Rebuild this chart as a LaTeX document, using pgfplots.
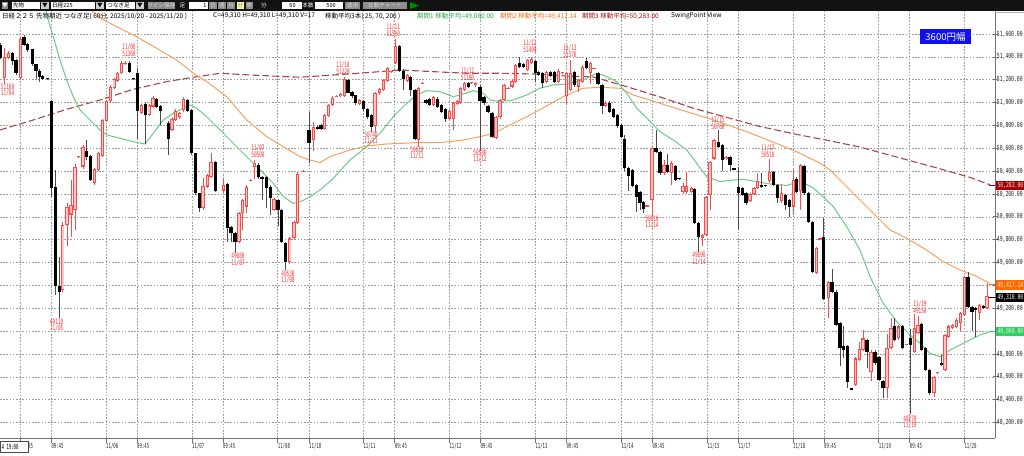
\documentclass[border=0pt]{standalone}
\usepackage{fontspec}
\usepackage{graphicx}
\usepackage{pgfplots}
\usepackage{pgfplotstable}
\pgfplotsset{compat=1.18}
\setmainfont{Liberation Sans}
\newfontfamily\jp{Noto Sans CJK JP}
\newfontfamily\dm{DejaVu Sans Mono}
\newcommand{\cnd}[2][0.58]{\scalebox{#1}[1]{#2}}
\definecolor{swred}{HTML}{FF3030}
\definecolor{upedge}{HTML}{FF4A4A}
\definecolor{upfill}{HTML}{FFC4C4}
\definecolor{maG}{HTML}{6CCB84}
\definecolor{maO}{HTML}{F5A261}
\definecolor{maR}{HTML}{A64848}
\definecolor{hdG}{HTML}{22AA44}
\definecolor{hdO}{HTML}{FF6A10}
\definecolor{hdR}{HTML}{AA1010}
\definecolor{bxR}{HTML}{A00000}
\definecolor{bxO}{HTML}{FF6A00}
\definecolor{bxG}{HTML}{33CC66}
\definecolor{bxB}{HTML}{1010F0}

% bullish candles: x open high low close
\pgfplotstableread{
x o h l c
4.7 51215 51480 51160 51400
8.7 51390 51450 51380 51435
20.7 51215 51575 51210 51560
62.8 49355 49950 49340 49930
67 49930 50120 49740 50090
71 50020 50320 49825 50100
75 50060 50460 49885 50440
78.7 50520 50530 50515 50530
83 50440 50630 50420 50615
94.5 50295 50430 50280 50420
98.3 50410 50570 50400 50560
102.3 50530 50860 50520 50850
106.7 50840 51020 50830 51010
110.5 51010 51150 51000 51140
114.2 51125 51215 51115 51205
117.5 51190 51270 51180 51260
121.3 51260 51360 51250 51350
125 51340 51360 51330 51350
141.3 50910 50990 50900 50980
149.2 50890 50990 50880 50980
153 50965 51060 50950 51040
172 50760 50870 50750 50855
175.3 50850 50940 50840 50930
179.8 50870 50920 50860 50910
183.5 50935 51050 50920 51035
203 50075 50340 50060 50270
207.3 50265 50375 50255 50365
211 50350 50560 50340 50480
223.3 50230 50330 50210 50275
239 49780 50040 49770 50030
242.3 50030 50160 49880 50150
246.7 50090 50280 50030 50265
250.7 50315 50330 50310 50325
254.7 50435 50500 50330 50475
274 50060 50165 50050 50155
289.8 49605 49820 49590 49810
294 49810 49965 49800 49955
297.7 49945 50390 49935 50375
303 50395 50410 50390 50405
313.3 50670 50830 50580 50790
324.3 50770 50900 50760 50890
328.3 50880 50990 50870 50980
332.3 50980 51060 50970 51040
336.7 51050 51065 51045 51060
340.3 51055 51085 51050 51075
344.3 51060 51220 51050 51210
359.7 50985 51030 50975 51020
375 50795 51095 50740 51085
379.3 51080 51130 51070 51115
383.3 51110 51210 51100 51200
387.3 51190 51310 51180 51300
391 51265 51280 51260 51275
395.7 51345 51560 51340 51495
407.3 51190 51250 51180 51240
418.7 50670 51135 50610 51125
422.7 51165 51180 51160 51175
433.7 50980 51060 50970 51050
449.3 50860 50940 50850 50930
453.3 50855 51005 50760 50995
457.3 50990 51020 50980 51010
460.7 50995 51135 50985 51125
464.3 51110 51180 51100 51175
471.7 51170 51180 51165 51178
475.7 51150 51180 51140 51175
496 50690 50885 50680 50875
500 50875 51030 50860 51020
504 51020 51165 51010 51155
508 51120 51135 51115 51130
512 51140 51200 51130 51190
515.7 51180 51340 51170 51330
527.3 51285 51380 51275 51370
531.3 51350 51400 51340 51380
546.7 51180 51280 51170 51270
558.7 51180 51290 51170 51280
562.7 51255 51265 51250 51262
566.7 51055 51265 50990 51255
570.7 51110 51370 51100 51260
578.7 51140 51210 51090 51200
582.7 51180 51325 51170 51315
590.7 51260 51355 51160 51345
594 51295 51305 51290 51302
605.7 50970 51010 50960 51000
647 50090 50105 50085 50100
652 50150 50610 50010 50600
664 50380 50500 50370 50455
671.3 50380 50485 50280 50475
683 50220 50300 50200 50270
686.7 50215 50390 50200 50270
691.3 50220 50260 50210 50250
702.7 49815 49850 49740 49840
706 49840 50185 49830 50175
710 50190 50490 50060 50480
714 50510 50680 50500 50670
726 50505 50535 50495 50525
750 50140 50210 50130 50200
754 50200 50260 50190 50250
757.7 50250 50380 50240 50310
769.3 50310 50510 50300 50395
781.3 50135 50290 50125 50205
793.3 50090 50420 50020 50320
800.7 50225 50465 50060 50455
816.3 49505 49735 49495 49725
820 49800 49810 49795 49808
828.3 49285 49440 49110 49430
855.7 48530 48770 48520 48760
859.3 48745 48900 48735 48840
863 48835 49010 48825 48935
871 48645 48830 48560 48820
887 48500 48970 48410 48850
891 48850 49110 48840 49025
898.7 48935 49050 48925 49040
906.7 48880 48890 48875 48888
914.3 48820 49150 48810 49025
918 48980 49130 48970 49055
934 48455 48610 48420 48600
937.3 48630 48640 48625 48638
945 48660 48975 48650 48965
948.7 48950 49050 48940 49040
952.7 49025 49065 49015 49055
956.7 49035 49110 49025 49100
960.7 49070 49165 49000 49155
964.7 49140 49485 49130 49475
979.3 49155 49240 49100 49230
987 49200 49420 49190 49310
}\bull

% bearish candles: x open high low close
\pgfplotstableread{
x o h l c
0.8 51505 51520 51380 51390
12.5 51435 51445 51330 51365
16 51370 51380 51240 51255
24 51575 51590 51495 51505
27.3 51510 51520 51440 51460
32.3 51465 51470 51320 51335
36 51335 51340 51210 51280
39.5 51275 51290 51180 51225
42.8 51230 51240 51195 51210
47.2 51208 51212 51198 51202
51.7 51010 51020 50175 50250
55.7 50265 50410 49315 49390
59.5 49395 49650 49110 49345
86.8 50580 50670 50500 50525
90.7 50530 50540 50310 50320
129.5 51350 51360 51260 51270
133.7 51208 51212 51195 51202
137.3 51260 51300 50685 50930
145.3 50990 51000 50640 50890
156.7 51030 51040 50950 50965
160.7 50970 50980 50800 50930
168.3 50825 50840 50540 50680
187.7 51020 51030 50920 50930
191.7 50935 50940 50540 50555
195.7 50555 50560 50190 50205
199.3 50205 50210 50040 50075
215.3 50480 50490 50220 50230
227.3 50290 50300 49780 49900
231 49910 49920 49780 49855
235 49860 49870 49680 49775
258.7 50455 50470 50330 50345
262 50350 50360 50150 50330
266.5 50350 50360 50080 50250
270.2 50265 50280 50020 50165
278 50150 50160 49920 50060
281.7 50060 50070 49770 49780
285.3 49770 49780 49530 49605
309 50760 50920 50470 50650
317.3 50790 50800 50760 50770
321 50800 50810 50760 50770
348 51200 51210 51080 51085
352 51095 51100 51040 51055
355.7 51065 51070 50980 50995
363.3 51010 51020 50930 50940
367.3 50940 50950 50860 50875
371.3 50890 50900 50740 50785
399.3 51495 51500 51270 51280
403.3 51280 51290 51110 51205
410.7 51225 51235 51060 51110
415 51110 51120 50670 50680
426 51020 51030 50985 50995
429.7 51030 51040 50970 50980
437.3 51035 51045 50950 50960
441.3 50980 50990 50910 50920
445.3 50940 50950 50830 50860
468.3 51175 51180 51130 51140
480 51140 51150 50580 51010
484 51050 51060 50980 50995
488 50970 50980 50910 50920
492 50905 50915 50690 50700
519.7 51345 51395 51300 51315
523.3 51335 51345 51300 51310
535.3 51365 51375 51180 51255
538.7 51270 51280 51230 51240
542.7 51255 51265 51130 51170
550.7 51270 51280 51220 51230
554.7 51270 51280 51170 51180
574.7 51270 51280 51140 51155
586.7 51360 51390 51290 51300
598 51255 51265 51150 51160
602 51155 51165 50900 50970
609.7 51000 51010 50910 50920
613.3 50940 50950 50865 50875
617.3 50890 50900 50780 50795
621.3 50805 50815 50690 50700
624.7 50680 50720 50400 50425
628.7 50425 50435 50230 50360
632.3 50410 50420 50260 50270
636.3 50280 50290 50040 50175
640 50220 50230 50060 50120
643.7 50130 50140 50030 50070
656 50600 50760 50560 50570
660 50570 50580 50370 50380
667.3 50455 50550 50385 50395
675.7 50445 50455 50310 50320
679 50332 50336 50325 50328
694.3 50240 50250 49935 49945
698.3 49945 49955 49690 49825
718.3 50655 50760 50600 50610
722.3 50630 50640 50400 50500
730 50525 50535 50400 50455
734 50417 50420 50410 50413
738.3 50265 50440 49885 50205
742.3 50250 50260 50180 50190
746 50205 50215 50100 50120
761.7 50280 50380 50250 50260
765.7 50272 50276 50265 50268
773.3 50395 50405 50270 50280
777.3 50280 50290 50120 50165
785.3 50190 50200 50060 50100
789.3 50145 50155 50000 50090
796.7 50335 50345 50210 50220
804 50445 50455 50195 50205
808.3 50205 50215 49945 49955
812.3 49955 49965 49510 49520
823.3 49825 49990 49270 49280
832 49430 49540 49335 49345
836 49345 49355 49045 49055
840 49070 49080 48690 48850
843.7 48865 49040 48760 48835
847.7 48865 48875 48500 48555
851.3 48492 48496 48485 48488
867 48920 48930 48680 48820
875 48820 48830 48700 48720
879 48775 48785 48560 48570
883 48560 48570 48410 48500
894.7 49040 49110 48910 48920
902.7 49040 49050 48840 48850
910.3 48940 49020 48270 48880
921.7 49060 49070 48825 48835
925.7 48850 48860 48650 48660
929.7 48660 48670 48440 48455
941.7 48720 48790 48690 48700
968 49475 49520 49200 49210
972 49210 49220 49000 49170
975.7 49200 49210 48945 49185
983.3 49220 49230 49190 49200
}\bear

% moving average 25 (green)
\pgfplotstableread{
x p
44 51880
48.3 51723
53.3 51576
60 51372
66.7 51197
73.3 51051
80 50935
90 50847
100 50760
106.7 50716
120 50687
133.3 50657
145 50637
153.3 50731
163.3 50847
173.3 50906
183.3 50950
190 50979
196.7 50950
206.7 50876
220 50760
233.3 50643
246.7 50526
263.3 50381
273.3 50293
283.3 50176
293.3 50118
300 50132
310 50173
320 50235
331.7 50322
350 50497
366.7 50614
380 50731
393.3 50876
406.7 50993
416.7 51066
426.7 51104
440 51095
453.3 51051
463.3 51075
473.3 51104
483.3 51081
490 51022
500 51008
513.3 51022
526.7 51066
540 51125
553.3 51154
566.7 51162
583.3 51197
595 51250
603.3 51241
616.7 51183
626.7 51081
636.7 50950
646.7 50865
660 50745
673.3 50672
686.7 50585
696.7 50468
706.7 50351
720 50307
733.3 50322
743.3 50328
756.7 50307
770 50287
786.7 50274
800 50313
813.3 50252
823.3 50173
833.3 50088
846.7 49913
860 49709
870 49476
883.3 49243
896.7 49082
910 48965
920 48893
930 48805
940 48776
950 48834
960 48878
970 48922
980 48966
990 48994
}\maG

% moving average 70 (orange)
\pgfplotstableread{
x p
86 51845
103.3 51723
133.3 51591
156.7 51475
176.7 51372
193.3 51256
206.7 51183
226.7 51051
246.7 50847
266.7 50701
283.3 50614
300 50526
310 50497
320 50474
330 50526
350 50585
366.7 50620
386.7 50637
416.7 50649
440 50649
463.3 50672
480 50701
493.3 50731
506.7 50789
526.7 50876
546.7 50970
563.3 51052
583.3 51125
600 51133
620 51125
633.3 51066
660 50993
686.7 50920
713.3 50847
746.7 50745
780 50629
800 50556
820 50468
830 50410
843.3 50293
860 50147
870 50059
890 49885
906.7 49812
926.7 49709
943.3 49607
960 49534
973.3 49491
986.7 49432
990 49420
}\maO

% moving average 200 (dark red, dashed)
\pgfplotstableread{
x p
0 50760
33.3 50847
66.7 50941
100 51022
133.3 51116
166.7 51183
193.3 51221
220 51256
250 51241
300 51221
333.3 51241
366.7 51261
400 51285
433.3 51270
466.7 51256
500 51256
533.3 51250
566.7 51232
593.3 51224
626.7 51139
660 51049
693.3 50950
726.7 50870
760 50790
800 50715
830 50665
860 50610
900 50515
940 50420
970 50345
990 50280
}\maR

\tikzset{
  swl/.style={inner sep=0pt, font=\dm\fontsize{7.5}{7.5}\selectfont, text=swred},
  hdr/.style={anchor=west, inner sep=0pt, font=\jp\fontsize{6.5}{6.5}\selectfont},
  tb/.style={inner sep=0pt, font=\jp\fontsize{5.6}{5.6}\selectfont},
}
\newcommand{\lab}[4]{%
  \node[swl] at (#1,{455-#2}) {\cnd[0.585]{#3}};
  \node[swl] at (#1,{455-#2-6.7}) {\cnd[0.585]{#4}};}
\newcommand{\fld}[3]{%
  \fill[white] (#1,445.5) rectangle (#2,453.3);
  \node[tb, anchor=west, text=black] at ({#1+1.2},449.4) {#3};}
\newcommand{\btn}[5]{%
  \fill[#4] (#1,445.5) rectangle (#2,453.3);
  \node[tb, text=#5] at ({(#1+#2)/2},449.4) {#3};}
\newcommand{\pbox}[4]{%
  \draw[#2, line width=1pt] (989,{455-#1}) -- (995,{455-#1});
  \fill[#2] (996,{455-#1-4.6}) rectangle (1030,{455-#1+4.6});
  \node[anchor=west, inner sep=0pt, font=\dm\fontsize{7}{7}\selectfont, text=#3] at (997.3,{455-#1}) {\cnd[0.68]{#4}};}
\pgfplotsset{candle/.style={draw=none, mark=none, forget plot,
  error bars/.cd, y dir=plus, y explicit, error mark=none}}

\begin{document}
\begin{tikzpicture}[x=1pt, y=1pt]
\fill[white] (0,0) rectangle (1024,455);

\begin{axis}[
  at={(0pt,17pt)}, anchor=south west,
  scale only axis, width=995pt, height=427pt,
  xmin=0, xmax=995, ymin=48064, ymax=51801,
  axis x line*=bottom, axis y line*=right,
  axis line style={draw=black!55, line width=0.6pt},
  xtick={20.7,51.3,106,137,192,223,277.7,309,363.3,394.7,449.3,480.3,535.3,566.3,621.3,652.3,707.3,738.3,793,824,878.7,909.7,964.3},
  xticklabels={\cnd[0.57]{11/05},\cnd[0.57]{09:45},\cnd[0.57]{11/06},\cnd[0.57]{09:45},\cnd[0.57]{11/07},\cnd[0.57]{09:45},\cnd[0.57]{11/08},\cnd[0.57]{11/10},\cnd[0.57]{11/11},\cnd[0.57]{09:45},\cnd[0.57]{11/12},\cnd[0.57]{09:45},\cnd[0.57]{11/13},\cnd[0.57]{09:45},\cnd[0.57]{11/14},\cnd[0.57]{09:45},\cnd[0.57]{11/15},\cnd[0.57]{11/17},\cnd[0.57]{11/18},\cnd[0.57]{09:45},\cnd[0.57]{11/19},\cnd[0.57]{09:45},\cnd[0.57]{11/20}},
  ytick={48200,48400,48600,48800,49000,49200,49400,49600,49800,50000,50200,50400,50600,50800,51000,51200,51400,51600},
  scaled y ticks=false,
  xmajorgrids, ymajorgrids,
  major grid style={draw=black!38, line width=0.5pt, dash pattern=on 1.6pt off 1.6pt},
  xtick align=outside, ytick align=center,
  major tick length=5pt,
  tick style={draw=black!55, line width=0.6pt},
  xticklabel style={anchor=north west, inner sep=0pt, font=\dm\fontsize{7}{7}\selectfont, text=black!85},
  yticklabel pos=right,
  yticklabel style={anchor=west, inner sep=0pt, xshift=-0.8pt, font=\dm\fontsize{7}{7}\selectfont, text=black!85},
  yticklabel={\cnd[0.68]{\pgfmathprintnumber[fixed, fixed zerofill, precision=2, 1000 sep={,}, assume math mode=true]{\tick}}},
]
% moving averages
\addplot[maR, line width=1.1pt, dash pattern=on 7pt off 3pt, mark=none] table[x=x, y=p] {\maR};
\addplot[maO, line width=1pt, mark=none] table[x=x, y=p] {\maO};
\addplot[maG, line width=1pt, mark=none] table[x=x, y=p] {\maG};
% wicks
\addplot[candle, error bar style={line width=0.9pt, draw=black!70}]
  table[x=x, y=l, y error plus expr=\thisrow{h}-\thisrow{l}] {\bear};
\addplot[candle, error bar style={line width=0.9pt, draw=upedge}]
  table[x=x, y=l, y error plus expr=\thisrow{h}-\thisrow{l}] {\bull};
% bodies
\addplot[candle, error bar style={line width=3.3pt, draw=black}]
  table[x=x, y expr={min(\thisrow{o},\thisrow{c})}, y error plus expr={max(abs(\thisrow{c}-\thisrow{o}),10)}] {\bear};
\addplot[candle, error bar style={line width=3.3pt, draw=upedge}]
  table[x=x, y expr={min(\thisrow{o},\thisrow{c})}, y error plus expr={max(abs(\thisrow{c}-\thisrow{o}),10)}] {\bull};
\addplot[candle, error bar style={line width=1.5pt, draw=upfill}]
  table[x=x, y expr={min(\thisrow{o},\thisrow{c})+9}, y error plus expr={max(abs(\thisrow{c}-\thisrow{o})-18,0)}] {\bull};
\end{axis}

% toolbar
\fill[black!93] (0,444) rectangle (1024,455);
\btn{1.7}{8.3}{▼}{black!45}{white}
\fld{11.7}{40}{先物}
\btn{40.7}{49.3}{▼}{black!20}{black}
\fld{50.7}{95}{日経225}
\btn{95.7}{104}{▼}{black!20}{black}
\fld{106}{135}{つなぎ足}
\btn{136}{144}{▼}{black!20}{black}
\btn{147.7}{175}{ライン保存}{black!45}{black!15}
\node[tb, text=white] at (182.5,449.4) {足};
\fld{189}{208}{\hspace{13pt}1}
\btn{209}{217}{日}{black!45}{black!15}
\btn{218}{226}{週}{black!45}{black!15}
\btn{227}{235}{月}{black!45}{black!15}
\btn{237}{244}{分}{yellow!35}{black!50}
\btn{246}{253}{年}{black!45}{black!15}
\node[tb, text=white] at (264,449.4) {分};
\fld{282}{302}{\hspace{6pt}60}
\node[tb, text=white] at (308,449.4) {本数};
\fld{315}{343}{\hspace{10pt}500}
\btn{345}{360}{適用}{black!45}{black!15}
\btn{363}{407}{比較チャート}{black!45}{black!15}
\fill[green!55!black] (410,446) -- (419,449.4) -- (410,452.8) -- cycle;
\fill[black!30] (995,442.5) rectangle (1024,443.3);

% header
\node[hdr, text=black] at (2,439) {日経２２５ 先物期近 つなぎ足( 60分, 2025/10/20 - 2025/11/20 )};
\node[hdr, text=black] at (213,439) {C=49,310 H=49,310 L=49,310 V=17};
\node[hdr, text=black] at (325,439) {移動平均3本( 25, 70, 200 )};
\node[hdr, text=hdG] at (417,439) {期間1 移動平均=49,060.00};
\node[hdr, text=hdO] at (500,439) {期間2 移動平均=49,417.14};
\node[hdr, text=hdR] at (582,439) {期間3 移動平均=50,283.00};
\node[hdr, text=black] at (671,439) {SwingPoint View};

% swing point labels
\lab{129}{47.3}{11/06}{51360}
\lab{56.7}{321.7}{49110}{11/05}
\lab{238}{256}{49680}{11/07}
\lab{258}{148.3}{11/07}{50500}
\lab{288}{273.3}{49530}{11/08}
\lab{343}{65}{11/10}{51220}
\lab{371}{134.3}{50740}{11/11}
\lab{393.3}{27.3}{11/11}{51560}
\lab{417}{149.3}{50610}{11/11}
\lab{467.5}{70.7}{11/12}{51180}
\lab{480}{152.7}{50580}{11/12}
\lab{530}{42.7}{11/12}{51400}
\lab{570}{48.3}{11/13}{51370}
\lab{652}{218.3}{50010}{11/14}
\lab{699}{255}{49690}{11/14}
\lab{718}{120}{11/15}{50760}
\lab{768}{148.3}{11/17}{50510}
\lab{920}{304}{11/19}{49150}
\lab{910}{418.3}{48270}{11/19}
\lab{7.6}{86.7}{51160}{11/04}

% right-axis value boxes
\pbox{185.5}{bxR}{red!15}{50,283.00}
\pbox{285}{bxO}{orange!15}{49,417.14}
\pbox{297.3}{black}{white}{49,310.00}
\pbox{331.5}{bxG}{green!15}{49,060.00}

% range box
\node[fill=bxB, text=white, inner sep=0pt, minimum width=51pt, minimum height=15pt, font=\jp\fontsize{9.5}{9.5}\selectfont] at (945.5,418.5) {3600円幅};

% cursor time box
\draw[fill=white, draw=black!70, line width=0.5pt] (0.3,2.5) rectangle (28.3,13.5);
\node[anchor=west, inner sep=0pt, font=\dm\fontsize{7}{7}\selectfont] at (1.5,8) {\cnd[0.57]{4 19:00}};

\pgfresetboundingbox
\path[use as bounding box] (0,0) rectangle (1024,455);
\end{tikzpicture}
\end{document}
